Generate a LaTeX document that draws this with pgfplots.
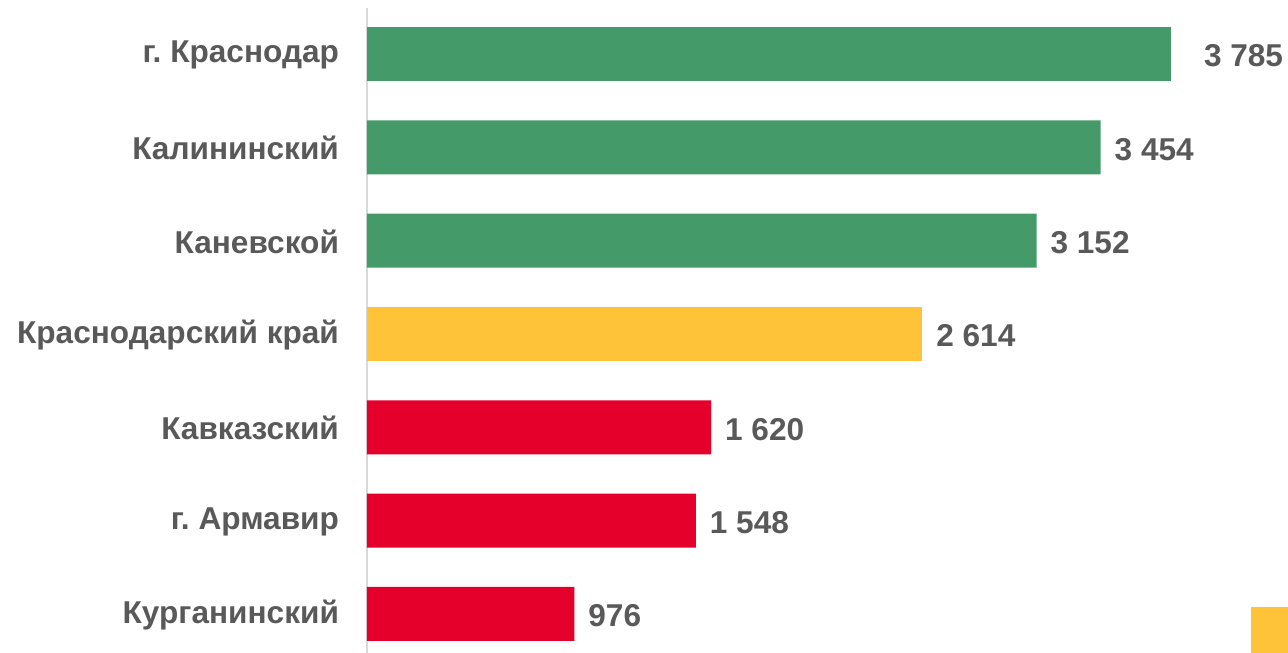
\documentclass[border=0pt]{standalone}
\usepackage{fontspec}
\setmainfont{Liberation Sans}
\usepackage{pgfplots}
\pgfplotsset{compat=1.18}

\definecolor{barGreen}{HTML}{449A68}
\definecolor{barYellow}{HTML}{FFC33A}
\definecolor{barRed}{HTML}{E4002B}
\definecolor{txtGray}{HTML}{595959}
\definecolor{axGray}{HTML}{D9D9D9}

\begin{document}
\frenchspacing
\begin{tikzpicture}
    \begin{axis}[
        scale only axis,
        width=460.5pt,
        height=322.5pt,
        xbar,
        bar width=27pt,
        bar shift=0pt,
        xmin=0, xmax=4336,
        ymin=-0.418, ymax=6.493,
        axis x line=none,
        axis y line*=left,
        y axis line style={axGray, line width=1pt},
        ytick={0,1,2,3,4,5,6},
        yticklabels={Курганинский, г. Армавир, Кавказский, Краснодарский край, Каневской, Калининский, г. Краснодар},
        major tick length=0pt,
        yticklabel style={font=\fontsize{15.8}{18}\selectfont\bfseries, text=txtGray, xshift=-10.5pt, yshift=-0.5pt},
        nodes near coords,
        nodes near coords style={font=\fontsize{15.8}{18}\selectfont\bfseries, text=txtGray, xshift=3.5pt, yshift=-1pt},
        /pgf/number format/assume math mode=true,
        /pgf/number format/1000 sep={\ },
        clip=false,
    ]
        % green: above the regional value
        \addplot[draw=none, fill=barGreen, bar shift=0pt,
            nodes near coords style={xshift=9.5pt}] coordinates {(3785,6)};
        \addplot[draw=none, fill=barGreen, bar shift=0pt] coordinates {(3454,5) (3152,4)};
        % yellow: Krasnodar krai
        \addplot[draw=none, fill=barYellow, bar shift=0pt] coordinates {(2614,3)};
        % red: below
        \addplot[draw=none, fill=barRed, bar shift=0pt] coordinates {(1620,2) (1548,1) (976,0)};

        \fill[barYellow] (axis cs:4162,0.075) rectangle (axis cs:4400,-0.418);
        \coordinate (bl) at (rel axis cs:0,0);
        \coordinate (tr) at (rel axis cs:1,1);
    \end{axis}
    \pgfresetboundingbox
    \path[use as bounding box] ([xshift=-183.5pt]bl) rectangle ([yshift=4pt]tr);
\end{tikzpicture}
\end{document}
